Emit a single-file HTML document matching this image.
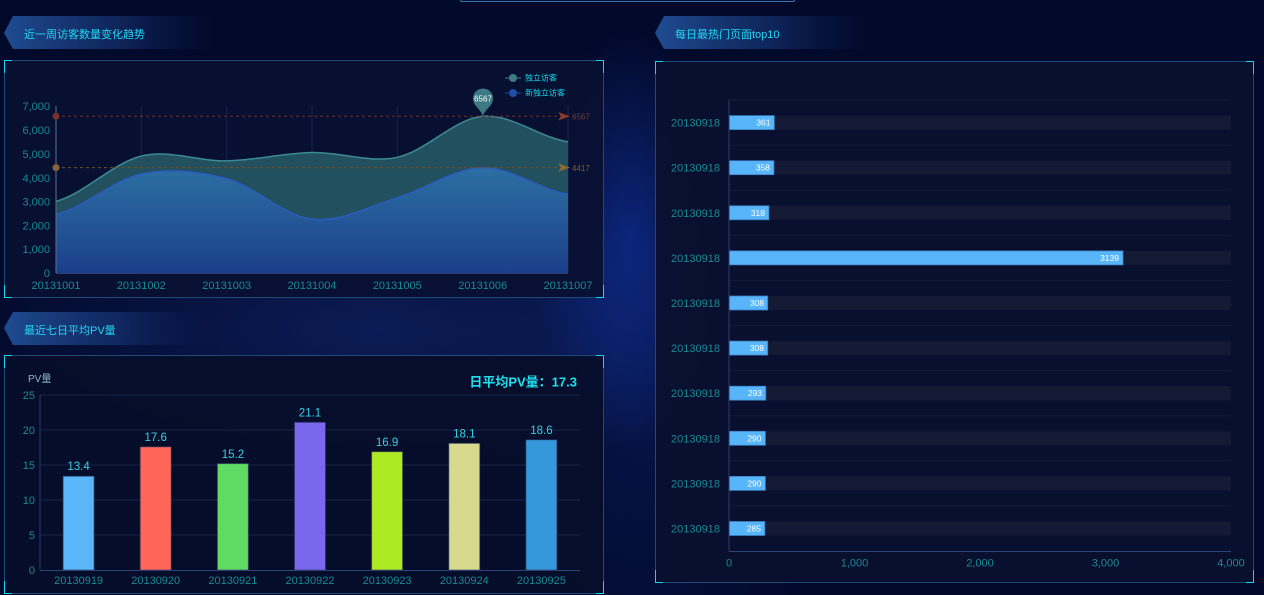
<!DOCTYPE html>
<html><head><meta charset="utf-8">
<style>
*{margin:0;padding:0;box-sizing:border-box}
html,body{width:1264px;height:595px;overflow:hidden}
body{position:relative;background:#020a2b;font-family:"Liberation Sans","Noto Sans CJK SC",sans-serif}
.bg{position:absolute;left:0;top:0;width:1264px;height:595px;
background:
radial-gradient(ellipse 100px 210px at 630px 240px, rgba(20,60,190,0.5), rgba(20,60,190,0) 100%),
radial-gradient(ellipse 420px 140px at 380px 330px, rgba(25,55,150,0.4), rgba(25,55,150,0) 100%),
radial-gradient(ellipse 200px 300px at 640px 420px, rgba(15,40,130,0.3), rgba(15,40,130,0) 100%),
#020a2b}
.btxt{position:absolute;color:#22d6f2;font-size:11px;white-space:nowrap}
.panel{position:absolute;border:1px solid #1f4a78;background:rgba(8,16,46,0.93)}
.c{position:absolute;border-color:#17d6ec;border-style:solid;width:8px;height:13px}
.tl{left:-1px;top:-1px;border-width:1.5px 0 0 1.5px}
.tr{right:-1px;top:-1px;border-width:1.5px 1.5px 0 0}
.bl{left:-1px;bottom:-1px;border-width:0 0 1.5px 1.5px}
.br{right:-1px;bottom:-1px;border-width:0 1.5px 1.5px 0}
svg text{font-family:"Liberation Sans","Noto Sans CJK SC",sans-serif}
</style></head><body>
<div class="bg"></div>

<div style="position:absolute;left:460px;top:-12px;width:335px;height:14px;border:1px solid #3a78b6;border-top:none;border-radius:0 0 2px 2px"></div>

<svg style="position:absolute;left:0;top:0" width="1264" height="60">
<defs>
<linearGradient id="bg1" x1="0" x2="1" y1="0" y2="0">
<stop offset="0" stop-color="#1f4c92"/><stop offset="0.55" stop-color="#14306e" stop-opacity="0.7"/><stop offset="1" stop-color="#0a1a50" stop-opacity="0"/>
</linearGradient>
</defs>
<polygon points="4,33 13,16 215,16 215,49 13,49" fill="url(#bg1)"/>
<polygon points="655,33 664,16 870,16 870,49 664,49" fill="url(#bg1)"/>
</svg>
<svg style="position:absolute;left:0;top:300px" width="260" height="60">
<defs>
<linearGradient id="bg2" x1="0" x2="1" y1="0" y2="0">
<stop offset="0" stop-color="#1f4c92"/><stop offset="0.55" stop-color="#14306e" stop-opacity="0.7"/><stop offset="1" stop-color="#0a1a50" stop-opacity="0"/>
</linearGradient>
</defs>
<polygon points="4,28 13,12 215,12 215,45 13,45" fill="url(#bg2)"/>
</svg>
<div class="btxt" style="left:24px;top:26px">近一周访客数量变化趋势</div>
<div class="btxt" style="left:675px;top:26px">每日最热门页面top10</div>
<div class="btxt" style="left:24px;top:322px">最近七日平均PV量</div>

<div class="panel" style="left:4px;top:60px;width:600px;height:238px;background:rgba(9,17,50,0.94)"><i class="c tl"></i><i class="c tr"></i><i class="c bl"></i><i class="c br"></i></div>
<div class="panel" style="left:4px;top:355px;width:600px;height:239px;background:rgba(6,14,42,0.93)"><i class="c tl"></i><i class="c tr"></i><i class="c bl"></i><i class="c br"></i></div>
<div class="panel" style="left:655px;top:61px;width:599px;height:522px;background:rgba(9,16,46,0.95)"><i class="c tl"></i><i class="c tr"></i><i class="c bl"></i><i class="c br"></i></div>

<svg style="position:absolute;left:0;top:0" width="610" height="300">
<defs>
<linearGradient id="g2" x1="0" y1="0" x2="0" y2="1">
<stop offset="0" stop-color="#2c6fa3"/><stop offset="1" stop-color="#1b3f8a"/>
</linearGradient>
</defs>
<g stroke="#17234e" stroke-width="1">
<line x1="141.3" y1="106" x2="141.3" y2="273"/><line x1="226.7" y1="106" x2="226.7" y2="273"/>
<line x1="312" y1="106" x2="312" y2="273"/><line x1="397.3" y1="106" x2="397.3" y2="273"/>
<line x1="482.7" y1="106" x2="482.7" y2="273"/><line x1="568" y1="106" x2="568" y2="273"/>
</g>
<path d="M56,201.4 C84.4,193.85 112.9,162.85 141.3,156.1 C169.8,149.35 198.2,161.5 226.7,160.9 C255.1,160.3 283.6,153.1 312,152.5 C340.4,151.9 368.9,163.3 397.3,157.3 C425.8,151.3 454.2,118.9 482.7,116.3 C511.1,113.7 539.6,137.55 568,141.8 L568,273 L56,273 Z" fill="#22505f"/>
<path d="M56,201.4 C84.4,193.85 112.9,162.85 141.3,156.1 C169.8,149.35 198.2,161.5 226.7,160.9 C255.1,160.3 283.6,153.1 312,152.5 C340.4,151.9 368.9,163.3 397.3,157.3 C425.8,151.3 454.2,118.9 482.7,116.3 C511.1,113.7 539.6,137.55 568,141.8" fill="none" stroke="#3b8a94" stroke-width="1.5"/>
<path d="M56,214.5 C84.4,207.75 112.9,179.95 141.3,174 C169.8,168.05 198.2,171.25 226.7,178.8 C255.1,186.35 283.6,216.1 312,219.3 C340.4,222.5 368.9,206.4 397.3,197.8 C425.8,189.2 454.2,168.2 482.7,167.6 C511.1,167 539.6,189.85 568,194.3 L568,273 L56,273 Z" fill="url(#g2)"/>
<path d="M56,214.5 C84.4,207.75 112.9,179.95 141.3,174 C169.8,168.05 198.2,171.25 226.7,178.8 C255.1,186.35 283.6,216.1 312,219.3 C340.4,222.5 368.9,206.4 397.3,197.8 C425.8,189.2 454.2,168.2 482.7,167.6 C511.1,167 539.6,189.85 568,194.3" fill="none" stroke="#2a5cc0" stroke-width="1.5"/>
<line x1="56" y1="106" x2="56" y2="273" stroke="#5f6f92" stroke-width="1"/>
<line x1="56" y1="273.5" x2="568" y2="273.5" stroke="#2a3d70" stroke-width="1"/>
<line x1="56" y1="116.3" x2="562" y2="116.3" stroke="#6e2e2e" stroke-width="1" stroke-dasharray="3,3"/>
<circle cx="56" cy="116.3" r="3.5" fill="#7a3228"/>
<polygon points="558,112 570,116.3 558,120.6 561,116.3" fill="#8a3a28"/>
<text x="572" y="119.5" font-size="8" fill="#7a3a30">6567</text>
<line x1="56" y1="167.6" x2="562" y2="167.6" stroke="#6a5030" stroke-width="1" stroke-dasharray="3,3"/>
<circle cx="56" cy="167.6" r="3.5" fill="#85653a"/>
<polygon points="558,163.3 570,167.6 558,171.9 561,167.6" fill="#8a6a32"/>
<text x="572" y="170.8" font-size="8" fill="#7a5e3a">4417</text>
<path d="M483,116 C480,108 473,106 473,98.5 A10,10 0 1 1 493,98.5 C493,106 486,108 483,116 Z" fill="#3c7a83"/>
<text x="483" y="101.5" font-size="8" fill="#ffffff" text-anchor="middle">6567</text>
<line x1="505" y1="78" x2="521" y2="78" stroke="#3d7c86" stroke-width="1"/>
<circle cx="513" cy="78" r="4" fill="#3d7c86"/>
<text x="525" y="80.5" font-size="8" fill="#17d6ec">独立访客</text>
<line x1="505" y1="93" x2="521" y2="93" stroke="#1f4fa6" stroke-width="1"/>
<circle cx="513" cy="93" r="4" fill="#1f4fa6"/>
<text x="525" y="95.5" font-size="8" fill="#17d6ec">新独立访客</text>
<g font-size="11" fill="#188a92" text-anchor="end">
<text x="50" y="110">7,000</text><text x="50" y="134">6,000</text><text x="50" y="158">5,000</text>
<text x="50" y="182">4,000</text><text x="50" y="205.5">3,000</text><text x="50" y="229.5">2,000</text>
<text x="50" y="253">1,000</text><text x="50" y="277">0</text>
</g>
<g font-size="11" fill="#188a92" text-anchor="middle">
<text x="56" y="289">20131001</text><text x="141.3" y="289">20131002</text><text x="226.7" y="289">20131003</text>
<text x="312" y="289">20131004</text><text x="397.3" y="289">20131005</text><text x="482.7" y="289">20131006</text>
<text x="568" y="289">20131007</text>
</g>
</svg>

<svg style="position:absolute;left:0;top:355px" width="610" height="240">
<g transform="translate(0,-355)">
<g stroke="#16254a" stroke-width="1">
<line x1="40" y1="395" x2="580" y2="395"/><line x1="40" y1="430" x2="580" y2="430"/>
<line x1="40" y1="465" x2="580" y2="465"/><line x1="40" y1="500" x2="580" y2="500"/>
<line x1="40" y1="535" x2="580" y2="535"/>
</g>
<line x1="40" y1="395" x2="40" y2="570" stroke="#2b3c6c"/>
<line x1="40" y1="570.5" x2="580" y2="570.5" stroke="#2e4378"/>
<g stroke-width="1" stroke="rgba(40,50,90,0.6)">
<rect x="63.1" y="476.2" width="31" height="93.8" fill="#5ab6f8"/>
<rect x="140.2" y="446.8" width="31" height="123.2" fill="#ff6657"/>
<rect x="217.4" y="463.6" width="31" height="106.4" fill="#5fdb63"/>
<rect x="294.5" y="422.3" width="31" height="147.7" fill="#7b67ee"/>
<rect x="371.6" y="451.7" width="31" height="118.3" fill="#aeea24"/>
<rect x="448.8" y="443.3" width="31" height="126.7" fill="#d7da8c"/>
<rect x="525.9" y="439.8" width="31" height="130.2" fill="#3498db"/>
</g>
<g font-size="11.5" fill="#35d0e2" text-anchor="middle">
<text x="78.6" y="470">13.4</text><text x="155.7" y="441">17.6</text><text x="232.9" y="458">15.2</text>
<text x="310" y="416.5">21.1</text><text x="387.1" y="446">16.9</text><text x="464.3" y="437.5">18.1</text>
<text x="541.4" y="434">18.6</text>
</g>
<g font-size="11" fill="#188a92" text-anchor="end">
<text x="35" y="399">25</text><text x="35" y="434">20</text><text x="35" y="469">15</text>
<text x="35" y="504">10</text><text x="35" y="539">5</text><text x="35" y="574">0</text>
</g>
<g font-size="11" fill="#188a92" text-anchor="middle">
<text x="78.6" y="584">20130919</text><text x="155.7" y="584">20130920</text><text x="232.9" y="584">20130921</text>
<text x="310" y="584">20130922</text><text x="387.1" y="584">20130923</text><text x="464.3" y="584">20130924</text>
<text x="541.4" y="584">20130925</text>
</g>
<text x="28" y="382" font-size="10" fill="#8fb4cc">PV量</text>
<text x="577" y="386.5" font-size="13" font-weight="bold" fill="#1fe0ee" text-anchor="end">日平均PV量：17.3</text>
</g>
</svg>

<svg style="position:absolute;left:655px;top:61px" width="609" height="525">
<g transform="translate(-655,-61)">
<g stroke="#111c3c" stroke-width="1">
<line x1="729" y1="100" x2="1231" y2="100"/><line x1="729" y1="145.1" x2="1231" y2="145.1"/>
<line x1="729" y1="190.2" x2="1231" y2="190.2"/><line x1="729" y1="235.3" x2="1231" y2="235.3"/>
<line x1="729" y1="280.4" x2="1231" y2="280.4"/><line x1="729" y1="325.5" x2="1231" y2="325.5"/>
<line x1="729" y1="370.6" x2="1231" y2="370.6"/><line x1="729" y1="415.7" x2="1231" y2="415.7"/>
<line x1="729" y1="460.8" x2="1231" y2="460.8"/><line x1="729" y1="505.9" x2="1231" y2="505.9"/>
</g>
<g fill="#141a33">
<rect x="729" y="115.6" width="502" height="14"/><rect x="729" y="160.7" width="502" height="14"/>
<rect x="729" y="205.8" width="502" height="14"/><rect x="729" y="250.9" width="502" height="14"/>
<rect x="729" y="296" width="502" height="14"/><rect x="729" y="341.1" width="502" height="14"/>
<rect x="729" y="386.2" width="502" height="14"/><rect x="729" y="431.3" width="502" height="14"/>
<rect x="729" y="476.4" width="502" height="14"/><rect x="729" y="521.5" width="502" height="14"/>
</g>
<g fill="#59b5fa" stroke="#3a7ec0" stroke-width="0.8">
<rect x="729" y="115.6" width="45.3" height="14"/><rect x="729" y="160.7" width="44.9" height="14"/>
<rect x="729" y="205.8" width="39.9" height="14"/><rect x="729" y="250.9" width="394" height="14"/>
<rect x="729" y="296" width="38.7" height="14"/><rect x="729" y="341.1" width="38.7" height="14"/>
<rect x="729" y="386.2" width="36.8" height="14"/><rect x="729" y="431.3" width="36.4" height="14"/>
<rect x="729" y="476.4" width="36.4" height="14"/><rect x="729" y="521.5" width="35.8" height="14"/>
</g>
<g font-size="8.5" fill="#ffffff" text-anchor="end">
<text x="770.5" y="125.6">361</text><text x="770" y="170.7">358</text><text x="765" y="215.8">318</text>
<text x="1119" y="260.9">3139</text><text x="764" y="306">308</text><text x="764" y="351.1">308</text>
<text x="762" y="396.2">293</text><text x="761.5" y="441.3">290</text><text x="761.5" y="486.4">290</text>
<text x="761" y="531.5">285</text>
</g>
<line x1="729" y1="100" x2="729" y2="551" stroke="#2b3d6c"/>
<line x1="729" y1="551.5" x2="1231" y2="551.5" stroke="#2e4378"/>
<g font-size="11" fill="#188a92" text-anchor="end">
<text x="720" y="126.6">20130918</text><text x="720" y="171.7">20130918</text><text x="720" y="216.8">20130918</text>
<text x="720" y="261.9">20130918</text><text x="720" y="307">20130918</text><text x="720" y="352.1">20130918</text>
<text x="720" y="397.2">20130918</text><text x="720" y="442.3">20130918</text><text x="720" y="487.4">20130918</text>
<text x="720" y="532.5">20130918</text>
</g>
<g font-size="11" fill="#188a92" text-anchor="middle">
<text x="729" y="566.5">0</text><text x="854.5" y="566.5">1,000</text><text x="980" y="566.5">2,000</text>
<text x="1105.5" y="566.5">3,000</text><text x="1231" y="566.5">4,000</text>
</g>
</g>
</svg>
</body></html>
